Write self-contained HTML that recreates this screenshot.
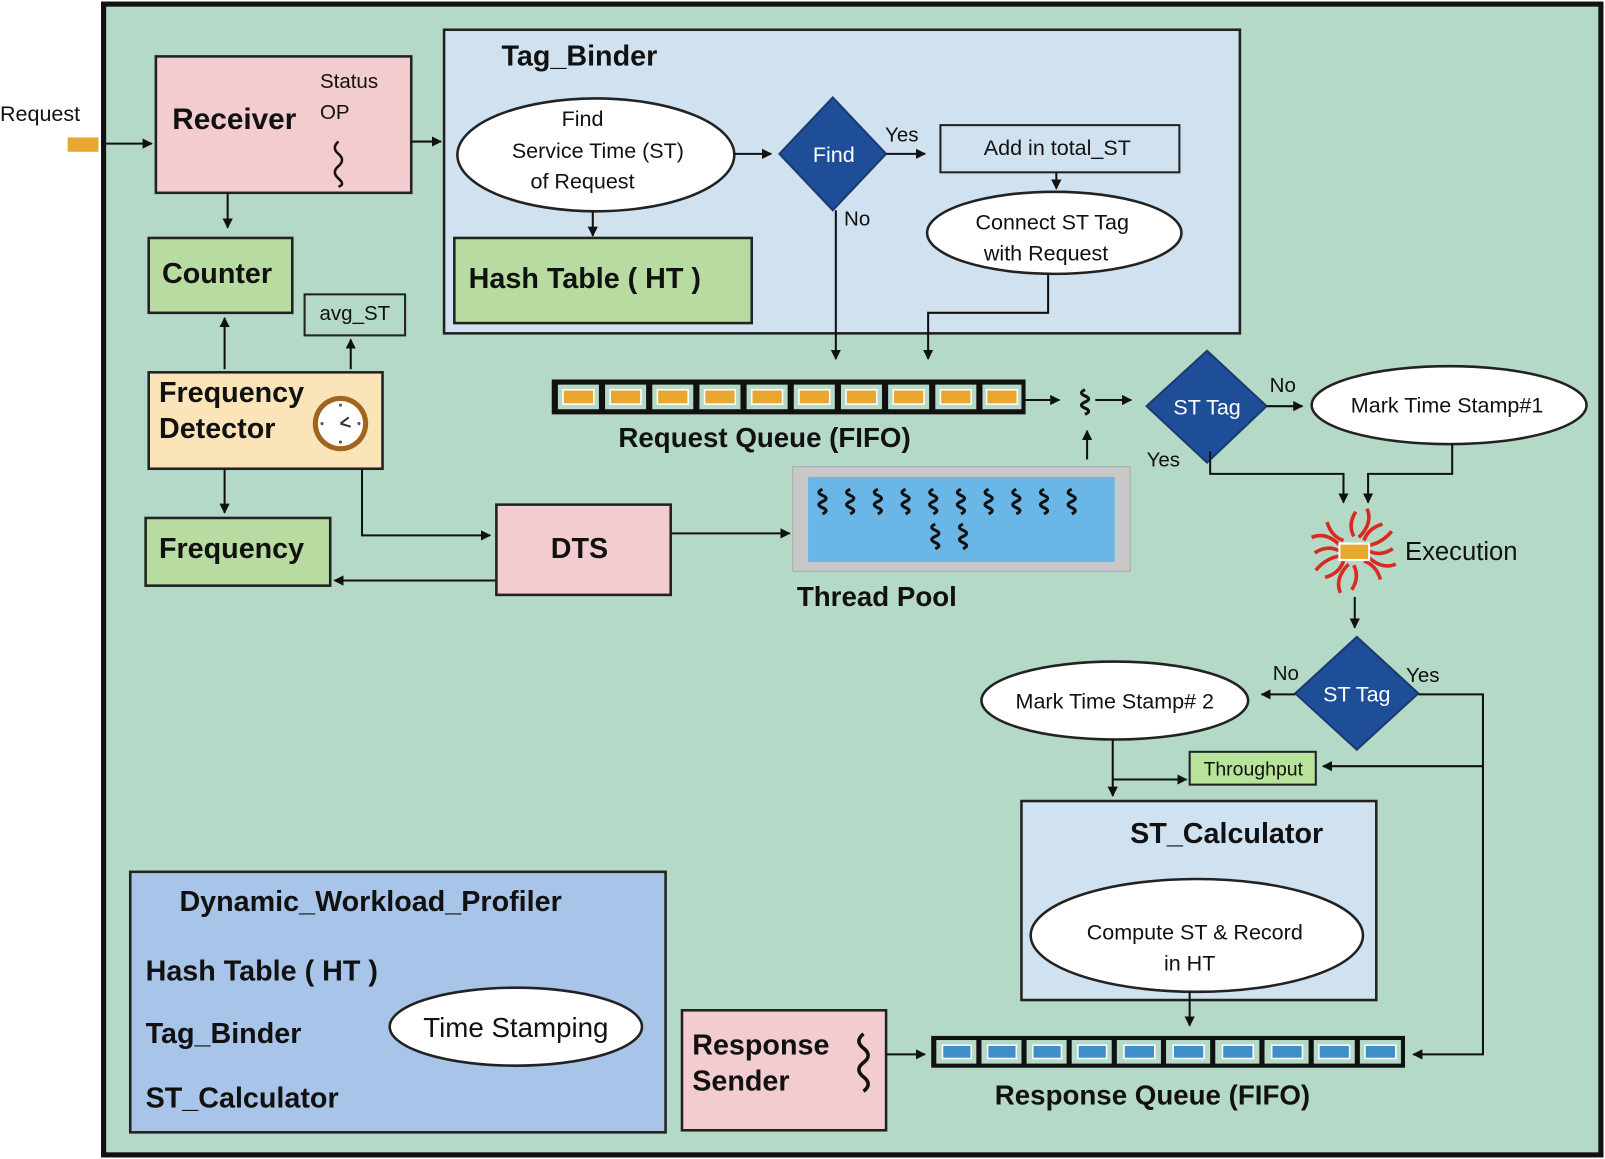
<!DOCTYPE html>
<html><head><meta charset="utf-8"><style>
html,body{margin:0;padding:0;background:#fff;}
svg{display:block;}
text{font-family:"Liberation Sans",sans-serif;fill:#111;}
.b{font-weight:bold;}
</style></head><body>
<svg width="1605" height="1159" viewBox="0 0 1565 1130" preserveAspectRatio="none" xmlns="http://www.w3.org/2000/svg">
<defs>
<marker id="a" viewBox="0 0 10 10" refX="9" refY="5" markerWidth="5" markerHeight="5" orient="auto"><path d="M0,0L10,5L0,10z" fill="#111"/></marker>
<g id="sq"><path d="M0,0 q-5,4 0,8 q5,4 0,8 q-5,4 0,8 q5,4 0,8" stroke="#111" stroke-width="2.5" fill="none"/></g>
<g id="sq2"><path d="M0,0 q-7,3 0,6 q7,3 0,6 q-7,3 0,6 q7,3 0,6" stroke="#111" stroke-width="3" fill="none"/></g>
</defs>
<rect x="0" y="0" width="1565" height="1130" fill="#fff"/>
<rect x="101" y="4" width="1460" height="1122" fill="#b4d9c7" stroke="#111" stroke-width="5"/>

<text x="0" y="118" font-size="21">Request</text>
<rect x="66" y="134" width="30" height="14" fill="#e8a830"/>
<line x1="100" y1="140" x2="148" y2="140" stroke="#111" stroke-width="2" marker-end="url(#a)"/>

<rect x="152" y="55" width="249" height="133" fill="#f2ccce" stroke="#222" stroke-width="2.5"/>
<text x="168" y="126" font-size="29" class="b">Receiver</text>
<text x="312" y="86" font-size="20">Status</text>
<text x="312" y="116" font-size="20">OP</text>
<path d="M330,138 q-7,6 0,12 q7,6 0,12 q-7,6 0,12 q7,6 0,8" stroke="#111" stroke-width="2.5" fill="none"/>
<line x1="401" y1="138" x2="430" y2="138" stroke="#111" stroke-width="2" marker-end="url(#a)"/>
<line x1="222" y1="188" x2="222" y2="222" stroke="#111" stroke-width="2" marker-end="url(#a)"/>

<rect x="433" y="29" width="776" height="296" fill="#d0e2f0" stroke="#222" stroke-width="2.5"/>
<text x="489" y="64" font-size="28" class="b">Tag_Binder</text>
<ellipse cx="581" cy="151" rx="135" ry="55" fill="#fff" stroke="#222" stroke-width="2.5"/>
<text x="568" y="123" font-size="21" text-anchor="middle">Find</text>
<text x="583" y="154" font-size="21" text-anchor="middle">Service Time (ST)</text>
<text x="568" y="184" font-size="21" text-anchor="middle">of Request</text>
<line x1="578" y1="206" x2="578" y2="230" stroke="#111" stroke-width="2" marker-end="url(#a)"/>
<rect x="443" y="232" width="290" height="83" fill="#b8dba2" stroke="#222" stroke-width="2.5"/>
<text x="457" y="281" font-size="28" class="b">Hash Table ( HT )</text>
<line x1="716" y1="150" x2="752" y2="150" stroke="#111" stroke-width="2" marker-end="url(#a)"/>
<polygon points="812,95 864,150 812,205 760,150" fill="#1f4e99" stroke="#1a3a70" stroke-width="2"/>
<text x="813" y="158" font-size="21" text-anchor="middle" style="fill:#fff">Find</text>
<text x="863" y="138" font-size="20">Yes</text>
<line x1="864" y1="150" x2="902" y2="150" stroke="#111" stroke-width="2" marker-end="url(#a)"/>
<rect x="917" y="122" width="233" height="46" fill="none" stroke="#222" stroke-width="2"/>
<text x="1031" y="151" font-size="21" text-anchor="middle">Add in total_ST</text>
<line x1="1030" y1="168" x2="1030" y2="184" stroke="#111" stroke-width="2" marker-end="url(#a)"/>
<ellipse cx="1028" cy="227" rx="124" ry="40" fill="#fff" stroke="#222" stroke-width="2.5"/>
<text x="1026" y="224" font-size="21" text-anchor="middle">Connect ST Tag</text>
<text x="1020" y="254" font-size="21" text-anchor="middle">with Request</text>
<text x="823" y="220" font-size="20">No</text>
<polyline points="815,205 815,350" fill="none" stroke="#111" stroke-width="2" marker-end="url(#a)"/>
<polyline points="1022,267 1022,305 905,305 905,350" fill="none" stroke="#111" stroke-width="2" marker-end="url(#a)"/>

<rect x="145" y="232" width="140" height="73" fill="#b8dba2" stroke="#222" stroke-width="2.5"/>
<text x="158" y="276" font-size="28" class="b">Counter</text>
<rect x="297" y="287" width="98" height="40" fill="none" stroke="#222" stroke-width="2"/>
<text x="346" y="312" font-size="20" text-anchor="middle">avg_ST</text>
<line x1="219" y1="360" x2="219" y2="310" stroke="#111" stroke-width="2" marker-end="url(#a)"/>
<line x1="342" y1="360" x2="342" y2="331" stroke="#111" stroke-width="2" marker-end="url(#a)"/>
<rect x="145" y="363" width="228" height="94" fill="#fbe5b8" stroke="#222" stroke-width="2.5"/>
<text x="155" y="392" font-size="28" class="b">Frequency</text>
<text x="155" y="427" font-size="28" class="b">Detector</text>
<circle cx="332" cy="413" r="27" fill="#a0641e"/>
<circle cx="332" cy="413" r="22" fill="#fff"/>
<g fill="#555"><circle cx="332" cy="395" r="1.5"/><circle cx="332" cy="431" r="1.5"/><circle cx="314" cy="413" r="1.5"/><circle cx="350" cy="413" r="1.5"/></g>
<path d="M332,413 l8,-6 M332,413 l10,3" stroke="#333" stroke-width="2"/>
<line x1="219" y1="457" x2="219" y2="500" stroke="#111" stroke-width="2" marker-end="url(#a)"/>
<rect x="142" y="505" width="180" height="66" fill="#b8dba2" stroke="#222" stroke-width="2.5"/>
<text x="155" y="544" font-size="28" class="b">Frequency</text>
<polyline points="353,457 353,522 478,522" fill="none" stroke="#111" stroke-width="2" marker-end="url(#a)"/>
<polyline points="484,566 326,566" fill="none" stroke="#111" stroke-width="2" marker-end="url(#a)"/>
<rect x="484" y="492" width="170" height="88" fill="#f2ccce" stroke="#222" stroke-width="2.5"/>
<text x="565" y="544" font-size="28" class="b" text-anchor="middle">DTS</text>
<line x1="654" y1="520" x2="770" y2="520" stroke="#111" stroke-width="2" marker-end="url(#a)"/>

<rect x="538" y="370" width="462" height="34" fill="#111"/>
<g fill="#b4d9c7">
<rect x="544" y="375" width="40" height="24"/><rect x="590" y="375" width="40" height="24"/><rect x="636" y="375" width="40" height="24"/><rect x="682" y="375" width="40" height="24"/><rect x="728" y="375" width="40" height="24"/><rect x="774" y="375" width="40" height="24"/><rect x="820" y="375" width="40" height="24"/><rect x="866" y="375" width="40" height="24"/><rect x="912" y="375" width="40" height="24"/><rect x="958" y="375" width="38" height="24"/>
</g>
<g fill="#e8a830" stroke="#fff" stroke-width="1.5">
<rect x="549" y="380" width="30" height="14"/><rect x="595" y="380" width="30" height="14"/><rect x="641" y="380" width="30" height="14"/><rect x="687" y="380" width="30" height="14"/><rect x="733" y="380" width="30" height="14"/><rect x="779" y="380" width="30" height="14"/><rect x="825" y="380" width="30" height="14"/><rect x="871" y="380" width="30" height="14"/><rect x="917" y="380" width="30" height="14"/><rect x="962" y="380" width="30" height="14"/>
</g>
<text x="603" y="436" font-size="27" class="b">Request Queue (FIFO)</text>
<line x1="1000" y1="390" x2="1033" y2="390" stroke="#111" stroke-width="2" marker-end="url(#a)"/>
<use href="#sq2" x="1058" y="380"/>
<line x1="1068" y1="390" x2="1103" y2="390" stroke="#111" stroke-width="2" marker-end="url(#a)"/>
<line x1="1060" y1="448" x2="1060" y2="420" stroke="#111" stroke-width="2" marker-end="url(#a)"/>

<rect x="773" y="455" width="329" height="102" fill="#c8c8c8" stroke="#aaa" stroke-width="1"/>
<rect x="788" y="465" width="299" height="83" fill="#6ab6e6"/>
<use href="#sq2" x="802" y="477"/><use href="#sq2" x="829" y="477"/><use href="#sq2" x="856" y="477"/><use href="#sq2" x="883" y="477"/><use href="#sq2" x="910" y="477"/><use href="#sq2" x="937" y="477"/><use href="#sq2" x="964" y="477"/><use href="#sq2" x="991" y="477"/><use href="#sq2" x="1018" y="477"/><use href="#sq2" x="1045" y="477"/>
<use href="#sq2" x="912" y="511"/><use href="#sq2" x="939" y="511"/>
<text x="777" y="591" font-size="27" class="b">Thread Pool</text>

<polygon points="1177,342 1235,396 1177,451 1118,396" fill="#1f4e99" stroke="#1a3a70" stroke-width="2"/>
<text x="1177" y="404" font-size="21" text-anchor="middle" style="fill:#fff">ST Tag</text>
<text x="1238" y="382" font-size="20">No</text>
<line x1="1235" y1="396" x2="1270" y2="396" stroke="#111" stroke-width="2" marker-end="url(#a)"/>
<ellipse cx="1413" cy="395" rx="134" ry="38" fill="#fff" stroke="#222" stroke-width="2.5"/>
<text x="1411" y="402" font-size="21" text-anchor="middle">Mark Time Stamp#1</text>
<text x="1118" y="455" font-size="20">Yes</text>
<polyline points="1180,440 1180,462 1310,462 1310,490" fill="none" stroke="#111" stroke-width="2" marker-end="url(#a)"/>
<polyline points="1416,433 1416,462 1334,462 1334,490" fill="none" stroke="#111" stroke-width="2" marker-end="url(#a)"/>

<g stroke="#d82a20" stroke-width="3.5" fill="none">
<path d="M1320,537 m0,-14 q-6,-12 2,-24"/><path d="M1320,537 m0,14 q6,12 -2,24"/>
<path d="M1320,537 m-14,0 q-12,-6 -24,2"/><path d="M1320,537 m14,0 q12,6 24,-2"/>
<path d="M1320,537 m-10,-10 q-12,-4 -16,-18"/><path d="M1320,537 m10,10 q12,4 16,18"/>
<path d="M1320,537 m10,-10 q4,-12 18,-16"/><path d="M1320,537 m-10,10 q-4,12 -18,16"/>
<path d="M1320,537 m-13,-5 q-14,-14 -28,-8"/><path d="M1320,537 m13,5 q14,14 28,8"/>
<path d="M1320,537 m5,-13 q14,-14 8,-28"/><path d="M1320,537 m-5,13 q-14,14 -8,28"/>
<path d="M1320,537 m-13,5 q-14,2 -24,14"/><path d="M1320,537 m13,-5 q14,-2 24,-14"/>
</g>
<rect x="1306" y="530" width="29" height="16" fill="#e8a830" stroke="#fff" stroke-width="2"/>
<text x="1370" y="546" font-size="25">Execution</text>
<line x1="1321" y1="582" x2="1321" y2="612" stroke="#111" stroke-width="2" marker-end="url(#a)"/>

<polygon points="1323,621 1383,676 1323,731 1263,676" fill="#1f4e99" stroke="#1a3a70" stroke-width="2"/>
<text x="1323" y="684" font-size="21" text-anchor="middle" style="fill:#fff">ST Tag</text>
<text x="1241" y="663" font-size="20">No</text>
<text x="1371" y="665" font-size="20">Yes</text>
<line x1="1263" y1="677" x2="1230" y2="677" stroke="#111" stroke-width="2" marker-end="url(#a)"/>
<ellipse cx="1087" cy="683" rx="130" ry="38" fill="#fff" stroke="#222" stroke-width="2.5"/>
<text x="1087" y="691" font-size="21" text-anchor="middle">Mark Time Stamp# 2</text>
<polyline points="1383,677 1446,677 1446,1028 1378,1028" fill="none" stroke="#111" stroke-width="2" marker-end="url(#a)"/>
<line x1="1446" y1="747" x2="1290" y2="747" stroke="#111" stroke-width="2" marker-end="url(#a)"/>
<rect x="1160" y="733" width="123" height="32" fill="#b8e39a" stroke="#222" stroke-width="2"/>
<text x="1222" y="756" font-size="19" text-anchor="middle">Throughput</text>
<polyline points="1085,721 1085,776" fill="none" stroke="#111" stroke-width="2" marker-end="url(#a)"/>
<polyline points="1085,760 1157,760" fill="none" stroke="#111" stroke-width="2" marker-end="url(#a)"/>

<rect x="996" y="781" width="346" height="194" fill="#d0e2f0" stroke="#222" stroke-width="2.5"/>
<text x="1102" y="822" font-size="28" class="b">ST_Calculator</text>
<ellipse cx="1167" cy="912" rx="162" ry="55" fill="#fff" stroke="#222" stroke-width="2.5"/>
<text x="1165" y="916" font-size="21" text-anchor="middle">Compute ST &amp; Record</text>
<text x="1160" y="946" font-size="21" text-anchor="middle">in HT</text>
<line x1="1160" y1="967" x2="1160" y2="1000" stroke="#111" stroke-width="2" marker-end="url(#a)"/>

<rect x="908" y="1010" width="462" height="31" fill="#111"/>
<g fill="#b4d9c7">
<rect x="913" y="1014" width="39" height="23"/><rect x="957" y="1014" width="39" height="23"/><rect x="1001" y="1014" width="39" height="23"/><rect x="1045" y="1014" width="39" height="23"/><rect x="1089" y="1014" width="43" height="23"/><rect x="1137" y="1014" width="43" height="23"/><rect x="1185" y="1014" width="43" height="23"/><rect x="1233" y="1014" width="43" height="23"/><rect x="1281" y="1014" width="40" height="23"/><rect x="1326" y="1014" width="40" height="23"/>
</g>
<g fill="#3e8fc8" stroke="#fff" stroke-width="1.5">
<rect x="919" y="1019" width="28" height="13"/><rect x="963" y="1019" width="28" height="13"/><rect x="1007" y="1019" width="28" height="13"/><rect x="1051" y="1019" width="28" height="13"/><rect x="1096" y="1019" width="30" height="13"/><rect x="1144" y="1019" width="30" height="13"/><rect x="1192" y="1019" width="30" height="13"/><rect x="1240" y="1019" width="30" height="13"/><rect x="1286" y="1019" width="30" height="13"/><rect x="1331" y="1019" width="30" height="13"/>
</g>
<text x="970" y="1077" font-size="27" class="b">Response Queue (FIFO)</text>

<rect x="665" y="985" width="199" height="117" fill="#f2ccce" stroke="#222" stroke-width="2.5"/>
<text x="675" y="1028" font-size="28" class="b">Response</text>
<text x="675" y="1063" font-size="28" class="b">Sender</text>
<path d="M842,1008 q-9,7 0,14 q9,7 0,14 q-9,7 0,14 q9,7 0,14" stroke="#111" stroke-width="3.5" fill="none"/>
<line x1="864" y1="1028" x2="902" y2="1028" stroke="#111" stroke-width="2" marker-end="url(#a)"/>

<rect x="127" y="850" width="522" height="254" fill="#a8c4e8" stroke="#222" stroke-width="2.5"/>
<text x="175" y="888" font-size="28" class="b">Dynamic_Workload_Profiler</text>
<text x="142" y="956" font-size="28" class="b">Hash Table ( HT )</text>
<text x="142" y="1017" font-size="28" class="b">Tag_Binder</text>
<text x="142" y="1080" font-size="28" class="b">ST_Calculator</text>
<ellipse cx="503" cy="1001" rx="123" ry="38" fill="#fff" stroke="#222" stroke-width="2.5"/>
<text x="503" y="1011" font-size="27" text-anchor="middle">Time Stamping</text>
</svg>
</body></html>
